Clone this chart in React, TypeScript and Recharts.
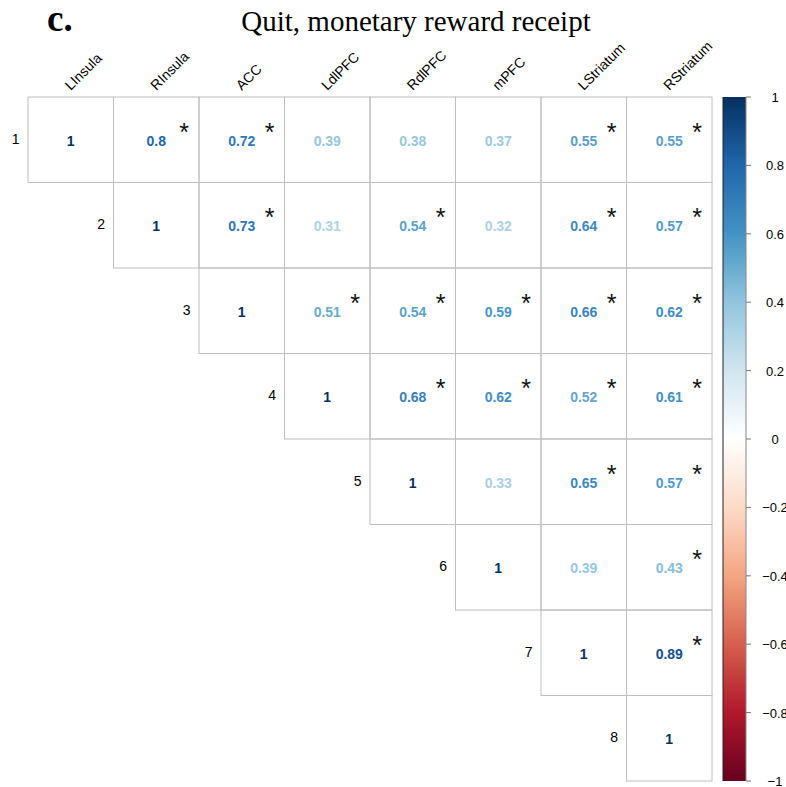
import { ScatterChart, Scatter, XAxis, YAxis, BarChart, Bar } from 'recharts'

const regions = ['LInsula', 'RInsula', 'ACC', 'LdlPFC', 'RdlPFC', 'mPFC', 'LStriatum', 'RStriatum']
const rowLabels = ['1', '2', '3', '4', '5', '6', '7', '8']

// upper triangle, each row starts at the diagonal
const corrRows = [
  [1, 0.8, 0.72, 0.39, 0.38, 0.37, 0.55, 0.55],
  [1, 0.73, 0.31, 0.54, 0.32, 0.64, 0.57],
  [1, 0.51, 0.54, 0.59, 0.66, 0.62],
  [1, 0.68, 0.62, 0.52, 0.61],
  [1, 0.33, 0.65, 0.57],
  [1, 0.39, 0.43],
  [1, 0.89],
  [1],
]
const sigRows = [
  [false, true, true, false, false, false, true, true],
  [false, true, false, true, false, true, true],
  [false, true, true, true, true, true],
  [false, true, true, true, true],
  [false, false, true, true],
  [false, false, true],
  [false, true],
  [false],
]

const legendTicks = [-1, -0.8, -0.6, -0.4, -0.2, 0, 0.2, 0.4, 0.6, 0.8, 1]
const rdbu = ['#67001F', '#B2182B', '#D6604D', '#F4A582', '#FDDBC7', '#FFFFFF', '#D1E5F0', '#92C5DE', '#4393C3', '#2166AC', '#053061']

const W = 786
const H = 787
const M = { top: 97, right: 74, bottom: 6, left: 28 }
const CELL = (W - M.left - M.right) / 8

const hex = (c: string) => [1, 3, 5].map((i) => parseInt(c.slice(i, i + 2), 16))

function colorFor(v: number) {
  const t = ((v + 1) / 2) * (rdbu.length - 1)
  const i = Math.min(Math.floor(t), rdbu.length - 2)
  const f = t - i
  const a = hex(rdbu[i])
  const b = hex(rdbu[i + 1])
  const rgb = a.map((x, k) => Math.round(x + (b[k] - x) * f))
  return `rgb(${rgb.join(',')})`
}

const cells = corrRows.flatMap((row, i) =>
  row.map((value, k) => ({ x: i + k + 0.5, y: i + 0.5, value, sig: sigRows[i][k] }))
)
const colHeads = regions.map((name, j) => ({ x: j + 0.5, y: 0, name }))
const rowHeads = rowLabels.map((label, i) => ({ x: i, y: i + 0.5, label }))
const legendData = [{ name: 'scale', range: [-1, 1] }]

const sans = '"Liberation Sans", Arial, sans-serif'
const serif = '"Liberation Serif", "Times New Roman", serif'

function CorrCell(props: any) {
  const { cx, cy, payload } = props
  const half = CELL / 2
  const v = payload.value
  return (
    <g>
      <rect x={cx - half} y={cy - half} width={CELL} height={CELL} fill="none" stroke="#bebebe" strokeWidth={1} />
      <text x={cx} y={cy + 6} textAnchor="middle" fontFamily={sans} fontWeight="bold" fontSize={14} fill={colorFor(v)}>
        {v === 1 ? '1' : String(v)}
      </text>
      {payload.sig && (
        <text x={cx + half - 15} y={cy + 1} textAnchor="middle" fontFamily={sans} fontSize={25} fill="#111">
          *
        </text>
      )}
    </g>
  )
}

function ColHead(props: any) {
  const { cx, cy, payload } = props
  const y = cy - 6
  return (
    <text x={cx} y={y} transform={`rotate(-45 ${cx} ${y})`} textAnchor="start" fontFamily={sans} fontSize={14} fill="#000">
      {payload.name}
    </text>
  )
}

function RowHead(props: any) {
  const { cx, cy, payload } = props
  return (
    <text x={cx - 8.5} y={cy + 4} textAnchor="end" fontFamily={sans} fontSize={14} fill="#000">
      {payload.label}
    </text>
  )
}

function LegendTick(props: any) {
  const { x, y, payload } = props
  const v = payload.value
  const label = v === 0 ? '0' : (v < 0 ? '\u2212' : '') + String(Math.abs(v))
  return (
    <text x={x + 22} y={y + 5} textAnchor="middle" fontFamily={sans} fontSize={13} fill="#000">
      {label}
    </text>
  )
}

export default function App() {
  return (
    <div style={{ position: 'absolute', left: 0, top: 0, width: W, height: H, overflow: 'hidden', background: '#fff' }}>
      <svg width={0} height={0} style={{ position: 'absolute' }}>
        <defs>
          <linearGradient id="rdbuGrad" x1="0" y1="0" x2="0" y2="1">
            {rdbu
              .slice()
              .reverse()
              .map((c, i) => (
                <stop key={i} offset={i / (rdbu.length - 1)} stopColor={c} />
              ))}
          </linearGradient>
        </defs>
      </svg>

      <div style={{ position: 'absolute', left: 47, top: 0, fontFamily: serif, fontWeight: 'bold', fontSize: 37, lineHeight: '37px' }}>
        c.
      </div>
      <div style={{ position: 'absolute', left: 416, top: 7, transform: 'translateX(-50%)', whiteSpace: 'nowrap', fontFamily: serif, fontSize: 29, lineHeight: '29px' }}>
        Quit, monetary reward receipt
      </div>

      <div style={{ position: 'absolute', left: 0, top: 0 }}>
        <ScatterChart width={W} height={H} margin={M}>
          <XAxis type="number" dataKey="x" domain={[0, 8]} hide height={0} />
          <YAxis type="number" dataKey="y" domain={[0, 8]} reversed hide width={0} />
          <Scatter data={cells} shape={CorrCell} isAnimationActive={false} />
          <Scatter data={colHeads} shape={ColHead} isAnimationActive={false} />
          <Scatter data={rowHeads} shape={RowHead} isAnimationActive={false} />
        </ScatterChart>
      </div>

      <div style={{ position: 'absolute', left: 700, top: 0 }}>
        <BarChart width={86} height={H} data={legendData} margin={{ top: M.top, right: 0, bottom: M.bottom, left: 0 }} barCategoryGap={0}>
          <XAxis dataKey="name" hide height={0} />
          <YAxis yAxisId="left" orientation="left" width={23} domain={[-1, 1]} tick={false} tickLine={false} axisLine={{ stroke: '#222' }} />
          <YAxis
            yAxisId="right"
            orientation="right"
            width={40}
            domain={[-1, 1]}
            ticks={legendTicks}
            interval={0}
            tickSize={5}
            tickLine={{ stroke: '#777' }}
            axisLine={{ stroke: '#888' }}
            tick={<LegendTick />}
          />
          <Bar yAxisId="right" dataKey="range" fill="url(#rdbuGrad)" isAnimationActive={false} />
        </BarChart>
      </div>
    </div>
  )
}
